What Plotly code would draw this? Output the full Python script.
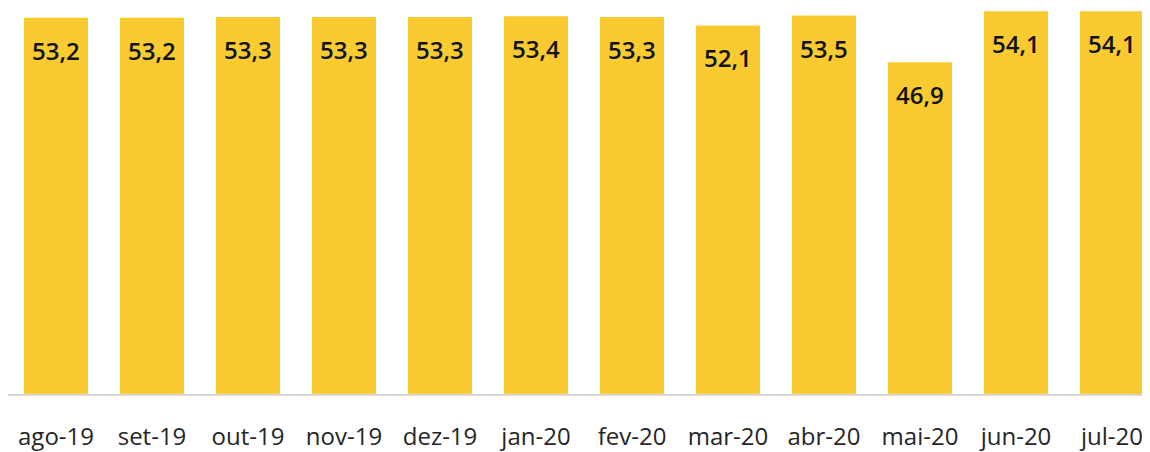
import plotly.graph_objects as go

categories = ["ago-19", "set-19", "out-19", "nov-19", "dez-19", "jan-20",
              "fev-20", "mar-20", "abr-20", "mai-20", "jun-20", "jul-20"]
values = [53.2, 53.2, 53.3, 53.3, 53.3, 53.4, 53.3, 52.1, 53.5, 46.9, 54.1, 54.1]
labels = [f"{v:.1f}".replace(".", ",") for v in values]

BAR_COLOR = "#F9CB31"

fig = go.Figure()
fig.add_trace(go.Bar(
    x=categories, y=values,
    marker=dict(color=BAR_COLOR, line=dict(width=0)),
    hoverinfo="skip",
))

for c, v, t in zip(categories, values, labels):
    fig.add_annotation(
        x=c, y=v, text=t, showarrow=False,
        yanchor="top", yshift=-14,
        font=dict(family="Open Sans", size=24, color="#111111", weight=600),
    )

# page body has an 8px margin: figure starts at x=8, y=8
fig.update_layout(
    width=1150, height=444,
    margin=dict(l=0, r=0, t=0, b=50),
    paper_bgcolor="white", plot_bgcolor="white",
    bargap=1/3,
    showlegend=False,
    xaxis=dict(
        range=[-0.5, -0.5 + 1150 / 96],
        showgrid=False, zeroline=False,
        showline=True, linecolor="#d9d9d9", linewidth=2,
        ticks="", ticklabelstandoff=20,
        tickfont=dict(family="Open Sans", size=24, color="#262626"),
    ),
    yaxis=dict(
        range=[0, 394 / 7.22], visible=False,
    ),
)

fig.write_html("out.html")
